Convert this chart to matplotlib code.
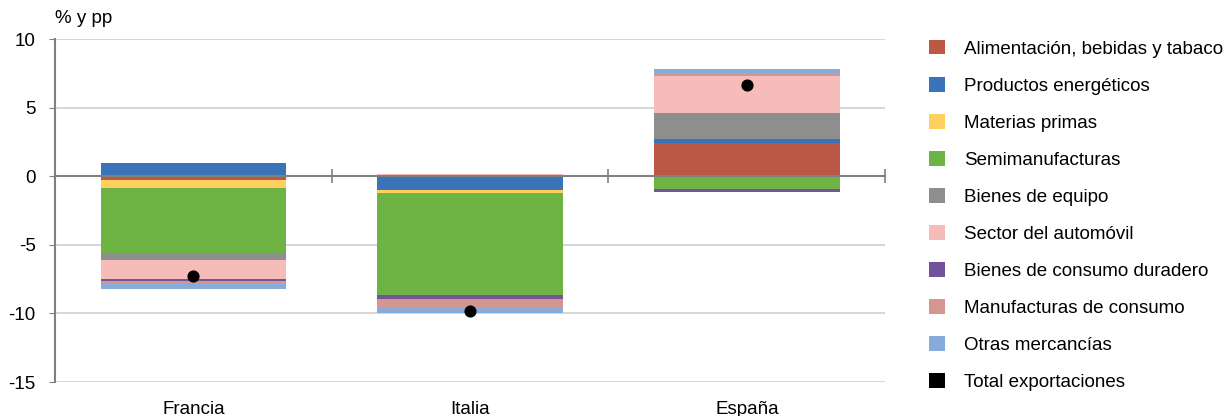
import numpy as np
import matplotlib
matplotlib.use("Agg")
import matplotlib.pyplot as plt
from matplotlib.patches import Patch
import matplotlib.transforms as mtransforms

plt.rcParams['font.family'] = ['Liberation Sans', 'DejaVu Sans']

# Data (% y pp)
paises = ['Francia', 'Italia', 'España']
series = ['Alimentación, bebidas y tabaco', 'Productos energéticos', 'Materias primas',
          'Semimanufacturas', 'Bienes de equipo', 'Sector del automóvil',
          'Bienes de consumo duradero', 'Manufacturas de consumo', 'Otras mercancías']
alimentacion = [-0.30, 0.00, 2.40]
energeticos = [0.93, -1.00, 0.34]
materias = [-0.58, -0.24, 0.00]
semimanuf = [-4.71, -7.39, -0.90]
equipo = [-0.53, 0.00, 1.85]
automovil = [-1.36, 0.15, 2.72]
duradero = [-0.17, -0.31, -0.24]
manuf_consumo = [-0.20, -0.68, 0.24]
otras = [-0.34, -0.34, 0.24]
total = [-7.27, -9.84, 6.63]

colores = ['#BB5745', '#3A73B8', '#FFD05E', '#6DB445', '#8E8E8E',
           '#F6BCB9', '#74529C', '#D4978F', '#87ACDA']

FS = 13.5


def main():
    valores = [alimentacion, energeticos, materias, semimanuf, equipo,
               automovil, duradero, manuf_consumo, otras]

    fig = plt.figure(figsize=(12.3, 4.16), dpi=100)
    ax = fig.add_axes([0.0447, 0.0817, 0.675, 0.8245])

    x = np.arange(len(paises))
    pos = np.zeros(len(paises))
    neg = np.zeros(len(paises))
    for vals, color, name in zip(valores, colores, series):
        v = np.array(vals)
        bottom = np.where(v >= 0, pos, neg)
        ax.bar(x, v, bottom=bottom, width=0.67, color=color, label=name, zorder=2)
        pos = pos + np.where(v > 0, v, 0)
        neg = neg + np.where(v < 0, v, 0)

    ax.scatter(x, total, s=60, color='black', zorder=4)

    ax.set_xlim(-0.5, 2.5)
    ax.set_ylim(-15, 10)
    ax.set_yticks([-15, -10, -5, 0, 5, 10])
    ax.set_yticklabels(['-15', '-10', '-5', '0', '5', '10'])
    ax.yaxis.grid(True, color='#CFCFCF', linewidth=1.2, zorder=0)
    ax.set_axisbelow(True)
    ax.tick_params(axis='y', length=4, color='#808080', labelsize=FS, pad=10)

    # bottom spine drawn at zero
    for s in ['top', 'right']:
        ax.spines[s].set_visible(False)
    ax.spines['left'].set_color('#808080')
    ax.spines['left'].set_linewidth(1.5)
    ax.spines['bottom'].set_position(('data', 0))
    ax.spines['bottom'].set_color('#808080')
    ax.spines['bottom'].set_linewidth(1.5)
    ax.spines['bottom'].set_zorder(3)
    ax.set_xticks([0.5, 1.5, 2.5])
    ax.set_xticklabels([])
    ax.tick_params(axis='x', direction='inout', length=10, color='#808080', width=1.2)

    trans = mtransforms.blended_transform_factory(ax.transData, ax.transAxes)
    for xi, p in zip(x, paises):
        ax.text(xi, -0.055, p, transform=trans, ha='center', va='top', fontsize=FS)

    fig.text(0.0447, 0.935, '% y pp', fontsize=FS, ha='left', va='bottom')

    handles = [Patch(facecolor=c, edgecolor='none') for c in colores]
    handles.append(Patch(facecolor='black', edgecolor='none'))
    labels = series + ['Total exportaciones']
    fig.legend(handles, labels, loc='upper left', bbox_to_anchor=(0.7495, 0.923),
               frameon=False, fontsize=FS, handlelength=0.85, handleheight=0.85,
               labelspacing=1.02, handletextpad=1.0, borderaxespad=0)

    fig.savefig('out.png', dpi=100)


if __name__ == "__main__":
    main()
